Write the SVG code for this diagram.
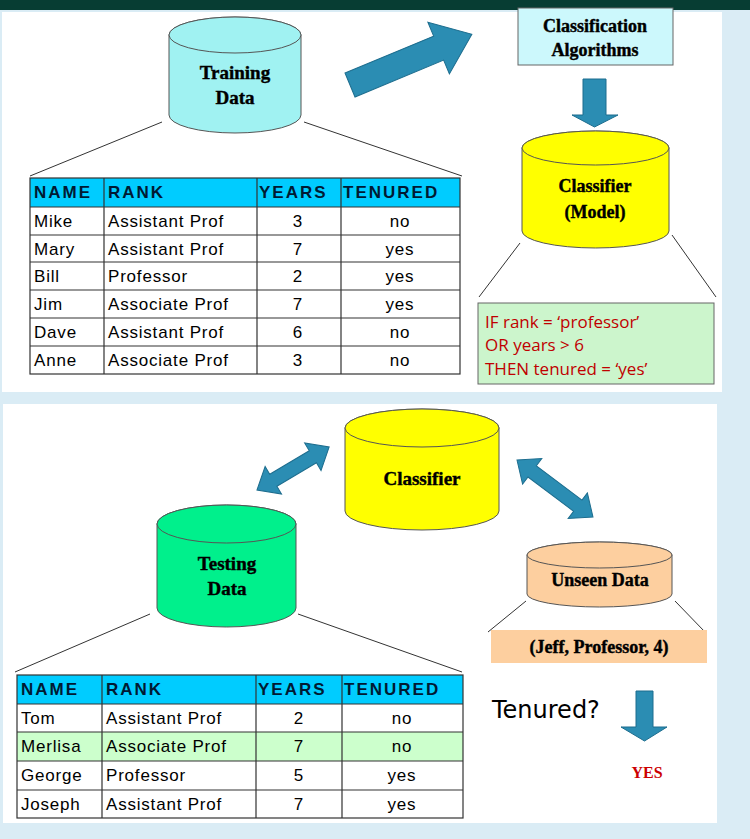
<svg xmlns="http://www.w3.org/2000/svg" width="750" height="839" viewBox="0 0 750 839">
<style>
.bg{fill:#daecf5}
.cyl{stroke:#555;stroke-width:1}
.lbl{font-family:"Liberation Serif",serif;font-weight:bold;font-size:19px;text-anchor:middle;fill:#000;stroke:#000;stroke-width:0.4}
.t{font-family:"Liberation Sans",sans-serif;font-size:17px;letter-spacing:0.8px;fill:#000}
.th{font-family:"Liberation Sans",sans-serif;font-size:17px;font-weight:bold;letter-spacing:2px;fill:#001a33}
.c{text-anchor:middle}
.ln{stroke:#333;stroke-width:1;fill:none}
.arr{fill:#2b8db3;stroke:#1d6d8e;stroke-width:1}
.grid{stroke:#333;stroke-width:1.2;fill:none}
.rule{font-family:"Open Sans",sans-serif;font-size:17px;fill:#c00000}
</style>
<rect width="750" height="839" class="bg"/>
<rect width="750" height="10" fill="#073d33"/>
<rect x="2" y="12" width="720" height="380" fill="#fff"/>
<rect x="3" y="404" width="714" height="419" fill="#fff"/>

<g id="connectors">
<line class="ln" x1="162" y1="122" x2="30" y2="176"/>
<line class="ln" x1="304" y1="122" x2="462" y2="176"/>
<line class="ln" x1="520" y1="243" x2="479" y2="297"/>
<line class="ln" x1="672" y1="235" x2="716" y2="297"/>
<line class="ln" x1="150" y1="614" x2="15" y2="672"/>
<line class="ln" x1="298" y1="614" x2="462" y2="672"/>
<line class="ln" x1="526" y1="601" x2="488" y2="632"/>
<line class="ln" x1="675" y1="601" x2="705" y2="632"/>
<polygon class="arr" transform="translate(350,85) rotate(-22.6)" points="0,-13 96,-13 96,-28 132,0 96,28 96,13 0,13"/>
<polygon class="arr" points="583,79 606,79 606,115 618,115 594.5,127 572,115 583,115"/>
<polygon class="arr" transform="translate(257,490) rotate(-30.8)" points="0,0 19,-16 19,-7 65,-7 65,-16 84,0 65,16 65,7 19,7 19,16"/>
<polygon class="arr" transform="translate(517,460) rotate(36.9)" points="0,0 19,-16 19,-7 76,-7 76,-16 95,0 76,16 76,7 19,7 19,16"/>
<polygon class="arr" points="636,691 653,691 653,727 667,727 644.5,741 621,727 636,727"/>
</g>

<g id="training-data">
<path class="cyl" fill="#a0f2f2" d="M169,35 V115 A66,18 0 0 0 301,115 V35 A66,18 0 0 0 169,35 Z"/>
<ellipse class="cyl" fill="#a0f2f2" cx="235" cy="35" rx="66" ry="18"/>
<text class="lbl" x="235" y="79">Training</text>
<text class="lbl" x="235" y="104">Data</text>
</g>

<g id="classification-algorithms">
<rect x="518" y="8" width="155" height="57" fill="#ccf8fc" stroke="#666"/>
<text class="lbl" x="595" y="32" style="font-size:18px">Classification</text>
<text class="lbl" x="595" y="56" style="font-size:18px">Algorithms</text>
</g>

<g id="classifier-model">
<path class="cyl" fill="#ffff00" d="M522,148 V231 A73.5,17 0 0 0 669,231 V148 A73.5,17 0 0 0 522,148 Z"/>
<ellipse class="cyl" fill="#ffff00" cx="595.5" cy="148" rx="73.5" ry="17"/>
<text class="lbl" x="595" y="192" style="font-size:18px">Classifier</text>
<text class="lbl" x="595" y="218" style="font-size:18px">(Model)</text>
</g>

<g id="rule">
<rect x="478" y="303" width="236" height="81" fill="#ccf5cc" stroke="#666"/>
<text class="rule" x="485" y="328">IF rank = ‘professor’</text>
<text class="rule" x="485" y="351">OR years &gt; 6</text>
<text class="rule" x="485" y="375">THEN tenured = ‘yes’</text>
</g>

<g id="training-table">
<rect x="30" y="178" width="430" height="29" fill="#00ccff"/>
<rect class="grid" x="30" y="178" width="430" height="196"/>
<path class="grid" d="M30,207H460M30,235H460M30,262H460M30,290H460M30,318H460M30,346H460M104,178V374M257,178V374M341,178V374"/>
<text class="th" x="34" y="198">NAME</text><text class="th" x="108" y="198">RANK</text><text class="th" x="259" y="198">YEARS</text><text class="th" x="343" y="198">TENURED</text>
<text class="t" x="34" y="227">Mike</text><text class="t" x="108" y="227">Assistant Prof</text><text class="t c" x="298" y="227">3</text><text class="t c" x="400" y="227">no</text>
<text class="t" x="34" y="255">Mary</text><text class="t" x="108" y="255">Assistant Prof</text><text class="t c" x="298" y="255">7</text><text class="t c" x="400" y="255">yes</text>
<text class="t" x="34" y="282">Bill</text><text class="t" x="108" y="282">Professor</text><text class="t c" x="298" y="282">2</text><text class="t c" x="400" y="282">yes</text>
<text class="t" x="34" y="310">Jim</text><text class="t" x="108" y="310">Associate Prof</text><text class="t c" x="298" y="310">7</text><text class="t c" x="400" y="310">yes</text>
<text class="t" x="34" y="338">Dave</text><text class="t" x="108" y="338">Assistant Prof</text><text class="t c" x="298" y="338">6</text><text class="t c" x="400" y="338">no</text>
<text class="t" x="34" y="366">Anne</text><text class="t" x="108" y="366">Associate Prof</text><text class="t c" x="298" y="366">3</text><text class="t c" x="400" y="366">no</text>
</g>

<g id="classifier">
<path class="cyl" fill="#ffff00" d="M345,428 V511 A77,19 0 0 0 499,511 V428 A77,19 0 0 0 345,428 Z"/>
<ellipse class="cyl" fill="#ffff00" cx="422" cy="428" rx="77" ry="19"/>
<text class="lbl" x="422" y="485">Classifier</text>
</g>

<g id="testing-data">
<path class="cyl" fill="#00f08c" d="M157,524 V608 A69.5,19 0 0 0 296,608 V524 A69.5,19 0 0 0 157,524 Z"/>
<ellipse class="cyl" fill="#00f08c" cx="226.5" cy="524" rx="69.5" ry="19"/>
<text class="lbl" x="227" y="570">Testing</text>
<text class="lbl" x="227" y="595">Data</text>
</g>

<g id="unseen-data">
<path class="cyl" fill="#fdcf9f" d="M527,555 V594 A72.5,13 0 0 0 672,594 V555 A72.5,13 0 0 0 527,555 Z"/>
<ellipse class="cyl" fill="#fdcf9f" cx="599.5" cy="555" rx="72.5" ry="13"/>
<text class="lbl" x="600" y="586" style="font-size:18px">Unseen Data</text>
</g>

<g id="jeff">
<rect x="491" y="630" width="216" height="33" fill="#fdcf9f"/>
<text class="lbl" x="599" y="653" style="font-size:18px">(Jeff, Professor, 4)</text>
</g>

<g id="testing-table">
<rect x="17" y="675" width="446" height="29" fill="#00ccff"/>
<rect x="17" y="732" width="446" height="29" fill="#ccffcc"/>
<rect class="grid" x="17" y="675" width="446" height="143"/>
<path class="grid" d="M17,704H463M17,732H463M17,761H463M17,790H463M102,675V818M256,675V818M342,675V818"/>
<text class="th" x="21" y="695">NAME</text><text class="th" x="106" y="695">RANK</text><text class="th" x="258" y="695">YEARS</text><text class="th" x="344" y="695">TENURED</text>
<text class="t" x="21" y="724">Tom</text><text class="t" x="106" y="724">Assistant Prof</text><text class="t c" x="299" y="724">2</text><text class="t c" x="402" y="724">no</text>
<text class="t" x="21" y="752">Merlisa</text><text class="t" x="106" y="752">Associate Prof</text><text class="t c" x="299" y="752">7</text><text class="t c" x="402" y="752">no</text>
<text class="t" x="21" y="781">George</text><text class="t" x="106" y="781">Professor</text><text class="t c" x="299" y="781">5</text><text class="t c" x="402" y="781">yes</text>
<text class="t" x="21" y="810">Joseph</text><text class="t" x="106" y="810">Assistant Prof</text><text class="t c" x="299" y="810">7</text><text class="t c" x="402" y="810">yes</text>
</g>

<g id="result">
<text x="492" y="718" style="font-family:'DejaVu Sans',sans-serif;font-size:24px;fill:#000">Tenured?</text>
<text x="647" y="778" style="font-family:'Liberation Serif',serif;font-weight:bold;font-size:16px;fill:#cc0000;text-anchor:middle">YES</text>
</g>
</svg>
